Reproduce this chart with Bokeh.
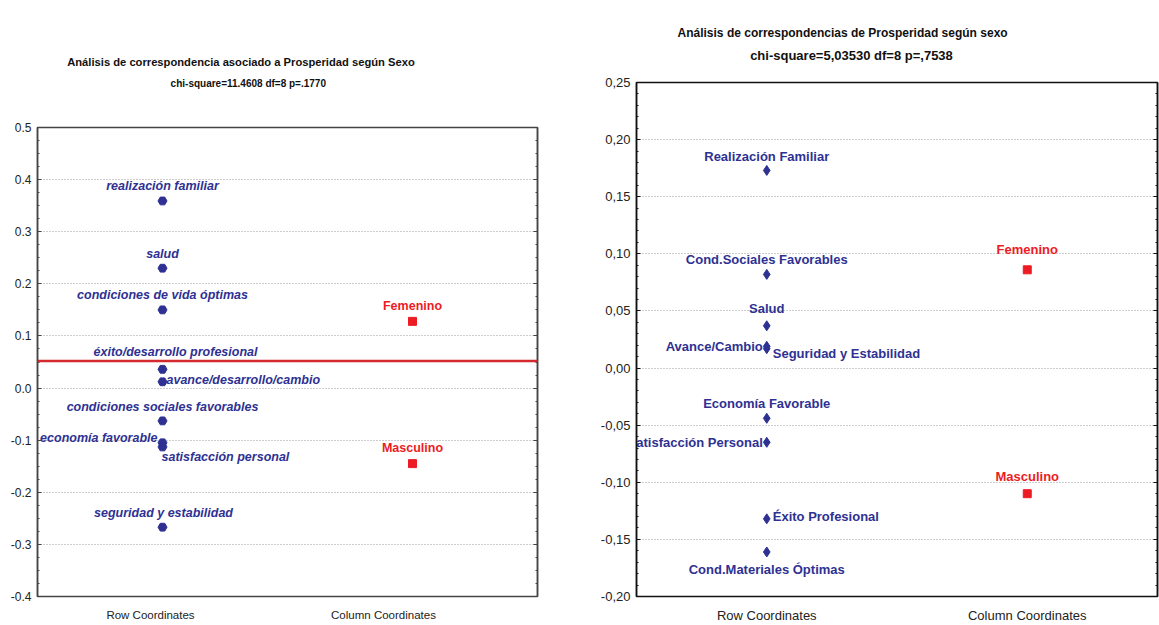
from bokeh.plotting import figure
from bokeh.layouts import row, column
from bokeh.models import (ColumnDataSource, Range1d, Span, LinearAxis,
                          SingleIntervalTicker, CustomJSTickFormatter, FixedTicker)
from bokeh.core.properties import value
from bokeh.embed import file_html
from bokeh.resources import INLINE

# ---------------- data: left chart ----------------
left_title = "Análisis de correspondencia asociado a Prosperidad según Sexo"
left_subtitle = "chi-square=11.4608  df=8 p=.1770"
left_row_labels = ["realización familiar", "salud", "condiciones de vida óptimas",
                   "éxito/desarrollo profesional", "avance/desarrollo/cambio",
                   "condiciones sociales favorables", "economía favorable",
                   "satisfacción personal", "seguridad y estabilidad"]
left_row_values = [0.359, 0.230, 0.150, 0.036, 0.012, -0.063, -0.105, -0.113, -0.267]
left_col_labels = ["Femenino", "Masculino"]
left_col_values = [0.128, -0.145]
left_ref_value = 0.052

# ---------------- data: right chart ----------------
right_title = "Análisis de correspondencias de Prosperidad según sexo"
right_subtitle = "chi-square=5,03530  df=8 p=,7538"
right_row_labels = ["Realización Familiar", "Cond.Sociales Favorables", "Salud",
                    "Avance/Cambio", "Seguridad y Estabilidad", "Economía Favorable",
                    "Satisfacción Personal", "Éxito Profesional", "Cond.Materiales Óptimas"]
right_row_values = [0.173, 0.082, 0.037, 0.019, 0.017, -0.044, -0.065, -0.132, -0.161]
right_col_labels = ["Femenino", "Masculino"]
right_col_values = [0.086, -0.110]

categories = ["Row Coordinates", "Column Coordinates"]
cat_pos = [1, 2]

NAVY = "#2e3192"
RED = "#ed1c24"
SANS = "'Liberation Sans', Arial, sans-serif"

# label placement (align, dx, dy in px)
left_place = {
    "realización familiar": ("center", 0, -15),
    "salud": ("center", 0, -14),
    "condiciones de vida óptimas": ("center", 0, -15),
    "éxito/desarrollo profesional": ("center", 13, -17),
    "avance/desarrollo/cambio": ("left", 4, -2),
    "condiciones sociales favorables": ("center", 0, -14),
    "economía favorable": ("right", -5, -5),
    "satisfacción personal": ("left", -1, 10),
    "seguridad y estabilidad": ("center", 1, -14),
    "Femenino": ("center", 0, -15),
    "Masculino": ("center", 0, -16),
}
right_place = {
    "Realización Familiar": ("center", 0, -14),
    "Cond.Sociales Favorables": ("center", 0, -15),
    "Salud": ("center", 0, -17),
    "Avance/Cambio": ("right", -4, 0),
    "Seguridad y Estabilidad": ("left", 6, 5),
    "Economía Favorable": ("center", 0, -15),
    "Satisfacción Personal": ("right", -4, 0),
    "Éxito Profesional": ("left", 6, -2),
    "Cond.Materiales Óptimas": ("center", 0, 18),
    "Femenino": ("center", 0, -20),
    "Masculino": ("center", 0, -17),
}


def make_source(labels, values, xpos, place):
    return ColumnDataSource(dict(
        x=[xpos] * len(labels), y=values, text=labels,
        align=[place[l][0] for l in labels],
        dx=[place[l][1] for l in labels],
        dy=[place[l][2] for l in labels],
    ))


def header_fig(width, height, title, subtitle, tpos, spos, tsize, ssize):
    h = figure(width=width, height=height, x_range=Range1d(0, width),
               y_range=Range1d(height, 0), output_backend="svg", toolbar_location=None,
               min_border=0, title=None, x_axis_location=None, y_axis_location=None,
               outline_line_color=None)
    h.grid.visible = False
    h.text(x=[tpos[0]], y=[tpos[1]], text=[title], text_align="center",
           text_baseline="middle", text_font=value(SANS), text_font_size=tsize,
           text_font_style="bold", text_color="#111111")
    h.text(x=[spos[0]], y=[spos[1]], text=[subtitle], text_align="center",
           text_baseline="middle", text_font=value(SANS), text_font_size=ssize,
           text_font_style="bold", text_color="#111111")
    return h


def base_fig(width, height, bl, br, bt, bb, yr, interval, nminor, fmt_code, axis_color,
             tick_size, cat_range, cat_size, cat_standoff):
    p = figure(width=width, height=height, x_range=Range1d(0.5, 2.5),
               y_range=Range1d(*yr), output_backend="svg", toolbar_location=None,
               min_border_left=bl, min_border_right=br, min_border_top=bt,
               min_border_bottom=bb, title=None, x_axis_location=None)
    p.xgrid.visible = False
    # category axis (own range so labels sit where the reference puts them)
    p.extra_x_ranges = {"cat": Range1d(*cat_range)}
    xa = LinearAxis(x_range_name="cat", ticker=FixedTicker(ticks=cat_pos),
                    major_label_overrides={k: v for k, v in zip(cat_pos, categories)},
                    major_tick_in=0, major_tick_out=0, minor_tick_in=0, minor_tick_out=0,
                    axis_line_color=None, major_label_standoff=cat_standoff,
                    major_label_text_font=SANS, major_label_text_font_size=cat_size,
                    major_label_text_color="#222222", major_label_text_font_style="normal")
    p.add_layout(xa, "below")
    p.yaxis.ticker = SingleIntervalTicker(interval=interval, num_minor_ticks=nminor)
    p.yaxis.formatter = CustomJSTickFormatter(code=fmt_code)
    p.yaxis.major_label_text_font = SANS
    p.yaxis.major_label_text_font_size = tick_size
    p.yaxis.major_label_text_color = "#222222"
    p.yaxis.major_tick_in = 4
    p.yaxis.major_tick_out = 0
    p.yaxis.minor_tick_in = 2
    p.yaxis.minor_tick_out = 0
    p.yaxis.axis_line_color = axis_color
    p.yaxis.major_tick_line_color = axis_color
    p.yaxis.minor_tick_line_color = axis_color
    p.yaxis.axis_line_width = 1.5
    p.yaxis.major_label_standoff = 6
    p.ygrid.ticker = SingleIntervalTicker(interval=interval)
    p.ygrid.grid_line_color = "#9a9a9a"
    p.ygrid.grid_line_dash = "1 2"
    p.ygrid.grid_line_width = 1
    p.outline_line_color = axis_color
    p.outline_line_width = 1.5
    p.outline_line_alpha = 1
    ra = LinearAxis(ticker=SingleIntervalTicker(interval=interval, num_minor_ticks=nminor),
                    major_label_text_font_size="1px", major_label_text_alpha=0,
                    major_label_standoff=0,
                    major_tick_in=4, major_tick_out=0, minor_tick_in=2, minor_tick_out=0,
                    axis_line_color=axis_color, major_tick_line_color=axis_color,
                    minor_tick_line_color=axis_color, axis_line_width=1.5)
    p.add_layout(ra, "right")
    p.background_fill_color = "white"
    p.border_fill_color = "white"
    return p


# ---------------- left chart ----------------
hl = header_fig(575, 100, left_title, left_subtitle, (234, 61), (244, 83), "11.2px", "10px")
pl = base_fig(575, 525, 37, 38, 27, 29, (-0.4, 0.5), 0.1, 4,
              "var v = Math.abs(tick) < 1e-9 ? 0 : tick; return v.toFixed(1);",
              "#444444", "12px", (0.515, 2.661), "11.5px", 12)
pl.add_layout(Span(location=left_ref_value, dimension="width", line_color="#d42a2f",
                   line_width=2.5))
src_lr = make_source(left_row_labels, left_row_values, cat_pos[0], left_place)
src_lc = make_source(left_col_labels, left_col_values, cat_pos[1], left_place)
pl.scatter("x", "y", source=src_lr, marker="hex", size=9, color=NAVY)
pl.scatter("x", "y", source=src_lc, marker="square", size=8, color=RED)
pl.text("x", "y", text="text", source=src_lr, text_align="align", x_offset="dx",
        y_offset="dy", text_baseline="middle", text_color=NAVY,
        text_font=value(SANS), text_font_size="12.5px", text_font_style="bold italic")
pl.text("x", "y", text="text", source=src_lc, text_align="align", x_offset="dx",
        y_offset="dy", text_baseline="middle", text_color=RED,
        text_font=value(SANS), text_font_size="12.5px", text_font_style="bold")

# ---------------- right chart ----------------
hr = header_fig(584, 70, right_title, right_subtitle, (231, 32), (243, 55), "12px", "13px")
pr = base_fig(584, 555, 61, 2, 12, 28, (-0.20, 0.25), 0.05, 5,
              "var v = Math.abs(tick) < 1e-9 ? 0 : tick; return v.toFixed(2).replace('.', ',');",
              "#111111", "13px", (0.5, 2.5), "13px", 11)
src_rr = make_source(right_row_labels, right_row_values, cat_pos[0], right_place)
src_rc = make_source(right_col_labels, right_col_values, cat_pos[1], right_place)
pr.scatter("x", "y", source=src_rr, marker="diamond", size=10, color=NAVY)
pr.scatter("x", "y", source=src_rc, marker="square", size=8, color=RED)
pr.text("x", "y", text="text", source=src_rr, text_align="align", x_offset="dx",
        y_offset="dy", text_baseline="middle", text_color=NAVY,
        text_font=value(SANS), text_font_size="13px", text_font_style="bold")
pr.text("x", "y", text="text", source=src_rc, text_align="align", x_offset="dx",
        y_offset="dy", text_baseline="middle", text_color=RED,
        text_font=value(SANS), text_font_size="13px", text_font_style="bold")

layout = row(column(hl, pl, spacing=0), column(hr, pr, spacing=0), spacing=0)
open("out.html", "w").write(file_html(layout, INLINE))
